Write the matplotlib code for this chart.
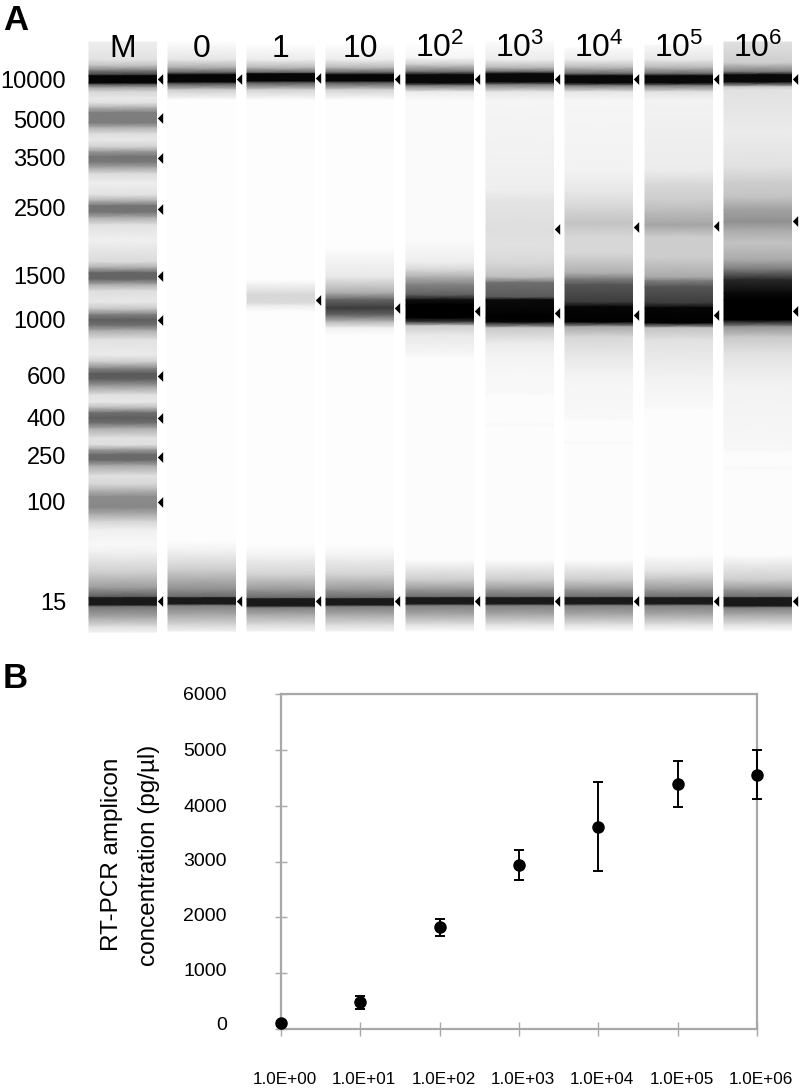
#!/usr/bin/env python3
"""
Gel image of RT-PCR amplicons and amplicon concentration vs template dilution.
"""

import numpy as np
import matplotlib
matplotlib.use('Agg')  # Non-interactive backend
import matplotlib.pyplot as plt
from matplotlib.transforms import ScaledTranslation

plt.rcParams['font.family'] = ['Liberation Sans', 'DejaVu Sans']
plt.rcParams['mathtext.fontset'] = 'custom'
plt.rcParams['mathtext.rm'] = 'Liberation Sans'
plt.rcParams['mathtext.default'] = 'regular'

# Panel A: lane headers and the ladder sizes
lane_names = ['M', '0', '1', '10', '$10^{2}$', '$10^{3}$', '$10^{4}$', '$10^{5}$', '$10^{6}$']
ladder_sizes = ['10000', '5000', '3500', '2500', '1500', '1000', '600', '400', '250', '100', '15']
ladder_migration = [80, 119, 158, 208, 276, 320, 375, 417, 455, 502, 601]

# Gel migration (px from the top of the picture) and grey level read along each lane
lane_m_pos = [42, 60, 66, 71, 75, 76, 83, 85, 88, 92, 98,
              103, 108, 113, 123, 128, 134,
              140, 147, 152, 157, 162, 168, 174,
              183, 195, 201, 206, 212, 218, 225,
              240, 262, 268, 273, 279, 285, 291,
              302, 309, 315, 320, 325, 331, 340,
              355, 362, 369, 374, 379, 386, 395,
              402, 408, 413, 418, 423, 429, 438,
              445, 450, 455, 460, 466, 476,
              484, 491, 497, 507, 514, 522, 530, 545, 553,
              573, 588, 597, 598, 605, 607, 617, 627, 632]
lane_m_gray = [238, 225, 190, 120, 60, 5, 5, 100, 170, 215, 232,
               225, 175, 125, 125, 180, 222,
               232, 208, 150, 115, 120, 170, 220,
               238, 225, 175, 115, 115, 175, 225,
               240, 218, 170, 100, 100, 175, 222,
               232, 198, 125, 95, 110, 175, 225,
               235, 205, 130, 90, 95, 155, 225,
               232, 185, 110, 95, 110, 175, 225,
               222, 155, 105, 105, 170, 225,
               215, 175, 140, 135, 170, 215, 240, 248, 240,
               205, 155, 90, 25, 25, 120, 165, 225, 240]

lane_0_pos = [42, 60, 68, 73, 75, 82, 84, 90, 100, 540, 550, 570, 590, 597, 598, 604, 606, 615, 625, 631]
lane_0_gray = [253, 228, 170, 90, 5, 5, 90, 205, 253, 253, 243, 205, 140, 105, 25, 25, 130, 170, 215, 240]

lane_1_pos = [45, 60, 68, 73, 74, 81, 83, 90, 100, 280, 285, 295, 303, 306, 312, 545, 555, 575, 590, 598,
              599, 606, 608, 615, 625, 631]
lane_1_gray = [253, 235, 180, 90, 5, 5, 90, 210, 253, 253, 240, 215, 218, 238, 253, 253, 243, 210, 150, 105,
               25, 25, 130, 170, 220, 242]

lane_10_pos = [45, 60, 68, 73, 75, 81, 83, 90, 100, 250, 253, 277, 293, 300, 308, 315, 322, 328, 335, 545,
               555, 575, 590, 598, 599, 605, 607, 615, 625, 631]
lane_10_gray = [253, 235, 180, 90, 5, 5, 90, 210, 253, 253, 248, 232, 172, 100, 60, 100, 185, 240, 253, 253,
                243, 210, 150, 105, 25, 25, 130, 170, 220, 242]

lane_100_pos = [45, 58, 65, 72, 75, 83, 86, 92, 100, 240, 262, 270, 278, 285, 295, 300, 305, 318, 322, 326,
                335, 353, 358, 560, 580, 590, 597, 598, 604, 606, 615, 625, 631]
lane_100_gray = [253, 245, 200, 110, 8, 8, 130, 235, 250, 250, 238, 215, 170, 130, 95, 15, 0, 0, 60, 205,
                 232, 245, 252, 252, 205, 150, 110, 25, 25, 130, 170, 225, 250]

lane_1000_pos = [42, 60, 68, 72, 74, 82, 85, 92, 100, 150, 190, 200, 229, 247, 263, 277, 283, 297, 300, 318,
                 322, 328, 343, 355, 380, 393, 396, 423, 425, 427, 560, 580, 590, 597, 598, 604, 606, 615, 625, 631]
lane_1000_gray = [250, 235, 180, 100, 8, 8, 130, 230, 245, 242, 238, 228, 222, 225, 215, 190, 110, 90, 10, 0,
                  5, 200, 235, 243, 248, 248, 252, 252, 248, 252, 252, 205, 150, 110, 25, 25, 130, 170, 225, 250]

lane_10k_pos = [48, 60, 68, 74, 76, 83, 86, 92, 100, 170, 190, 207, 223, 237, 253, 273, 279, 285, 302, 307,
                322, 327, 337, 357, 380, 418, 421, 441, 443, 445, 560, 580, 590, 597, 598, 604, 606, 615, 625, 631]
lane_10k_gray = [250, 235, 180, 100, 8, 8, 130, 230, 246, 242, 232, 215, 195, 215, 215, 175, 125, 85, 60, 5,
                 0, 170, 215, 232, 245, 248, 252, 252, 248, 252, 252, 205, 150, 110, 25, 25, 130, 170, 225, 250]

lane_100k_pos = [45, 60, 68, 74, 76, 83, 86, 92, 100, 170, 185, 200, 213, 225, 237, 257, 277, 281, 287, 303, 308,
                 323, 328, 340, 380, 407, 410, 555, 572, 580, 590, 597, 598, 604, 606, 615, 625, 631]
lane_100k_gray = [248, 230, 180, 100, 8, 8, 130, 225, 242, 236, 215, 205, 185, 165, 205, 205, 170, 125, 85, 60, 5,
                  0, 195, 225, 243, 248, 252, 252, 225, 195, 150, 110, 25, 25, 130, 170, 225, 250]

lane_1m_pos = [42, 63, 72, 75, 82, 87, 90, 133, 167, 183, 197, 210, 222, 230, 243, 260, 270, 280, 293,
               300, 320, 327, 337, 353, 370, 385, 450, 453, 466, 468, 470, 555, 580, 590, 597, 598, 606, 608, 615, 625, 631]
lane_1m_gray = [225, 205, 120, 8, 8, 205, 225, 235, 225, 205, 195, 160, 145, 170, 195, 170, 120, 40, 10,
                0, 0, 150, 200, 225, 235, 242, 247, 252, 252, 248, 252, 252, 205, 150, 110, 25, 25, 130, 170, 225, 250]

lanes_pos = [lane_m_pos, lane_0_pos, lane_1_pos, lane_10_pos, lane_100_pos,
             lane_1000_pos, lane_10k_pos, lane_100k_pos, lane_1m_pos]
lanes_gray = [lane_m_gray, lane_0_gray, lane_1_gray, lane_10_gray, lane_100_gray,
              lane_1000_gray, lane_10k_gray, lane_100k_gray, lane_1m_gray]

# Peak calls (arrowheads) per lane
peaks = [
    [79, 118, 158, 209, 276, 320, 376, 418, 457, 502, 601],
    [79, 601],
    [78, 300, 601],
    [79, 308, 601],
    [79, 311, 601],
    [79, 229, 313, 601],
    [79, 227, 315, 601],
    [79, 226, 315, 601],
    [79, 221, 311, 601],
]

# Panel B: concentration vs template amount
template = [1e0, 1e1, 1e2, 1e3, 1e4, 1e5, 1e6]
conc_mean = [107, 477, 1819, 2934, 3626, 4390, 4557]
conc_low = [60, 358, 1670, 2660, 2827, 3984, 4115]
conc_high = [150, 596, 1974, 3209, 4431, 4795, 4998]
x_labels = ['1.0E+00', '1.0E+01', '1.0E+02', '1.0E+03', '1.0E+04', '1.0E+05', '1.0E+06']
y_ticks = [0, 1000, 2000, 3000, 4000, 5000, 6000]

# Lane geometry in gel px
lane_left = [89, 168, 247, 326, 406, 486, 565, 645, 724]
lane_width = 67.5
arrow = [(0.5, -1), (0.5, 1), (-0.5, 0)]

W, H = 800, 1090
fig = plt.figure(figsize=(W / 100, H / 100), dpi=100)

# Panel A
ax_gel = fig.add_axes([0, 1 - 650 / H, 1, 650 / H])
ax_gel.set_xlim(0, W)
ax_gel.set_ylim(650, 0)
ax_gel.axis('off')

for left, pos, gray in zip(lane_left, lanes_pos, lanes_gray):
    shade = np.column_stack([gray, gray])
    ax_gel.pcolormesh([left, left + lane_width], pos, shade, shading='gouraud',
                      cmap='gray', vmin=0, vmax=255)

for left, ys in zip(lane_left, peaks):
    ax_gel.scatter([left + lane_width + 3.8] * len(ys), ys, marker=arrow, s=60,
                   color='black', linewidths=0, zorder=3)

for left, name in zip(lane_left, lane_names):
    ax_gel.text(left + 34, 57, name, fontsize=23, ha='center', va='baseline', zorder=4)

for size, y in zip(ladder_sizes, ladder_migration):
    ax_gel.text(66, y, size, fontsize=17, ha='right', va='center_baseline')

ax_gel.text(3, 30, 'A', fontsize=25, fontweight='bold', ha='left', va='baseline')
fig.text(3 / W, 1 - 688 / H, 'B', fontsize=25, fontweight='bold', ha='left', va='baseline')

# Panel B
ax = fig.add_axes([281 / W, 1 - 1029 / H, (757 - 281) / W, (1029 - 694) / H])
ax.set_xscale('log')
ax.set_xlim(1, 1e6)
ax.set_ylim(0, 6000)

err_low = [m - l for m, l in zip(conc_mean, conc_low)]
err_high = [h - m for m, h in zip(conc_mean, conc_high)]
ax.errorbar(template, conc_mean, yerr=[err_low, err_high], fmt='o', color='black', ms=8,
            elinewidth=1.4, capsize=3.5, capthick=1.4, clip_on=False, zorder=5)

for spine in ax.spines.values():
    spine.set_color('#a8a8a8')
    spine.set_linewidth(1.6)

ax.set_xticks(template)
ax.set_xticklabels(x_labels, fontsize=12.3)
ax.minorticks_off()
ax.tick_params(axis='x', direction='inout', length=10, width=1.0, color='#a8a8a8', pad=26)
offset = ScaledTranslation(4 / 100, 0, fig.dpi_scale_trans)
for label in ax.get_xticklabels():
    label.set_transform(label.get_transform() + offset)

# y tick labels drift upward from the ticks in the lower part of the axis
ax.set_yticks(y_ticks)
ax.set_yticklabels([])
ax.tick_params(axis='y', direction='inout', length=9, width=1.0, color='#a8a8a8')
for value, nudge in zip(y_ticks, [6, 3.5, 3, 2, 0.5, 0, 0]):
    ax.annotate(str(value), xy=(0, value), xycoords=('axes fraction', 'data'),
                xytext=(-54 * 0.72, nudge * 0.72), textcoords='offset points',
                fontsize=14, ha='right', va='center_baseline')

fig.text(112 / W, 1 - 854 / H, 'RT-PCR amplicon', rotation=90, fontsize=17.5,
         ha='center', va='center')
fig.text(149 / W, 1 - 855 / H, 'concentration (pg/\u00b5l)', rotation=90, fontsize=17.5,
         ha='center', va='center')

fig.savefig('out.png', dpi=100)
